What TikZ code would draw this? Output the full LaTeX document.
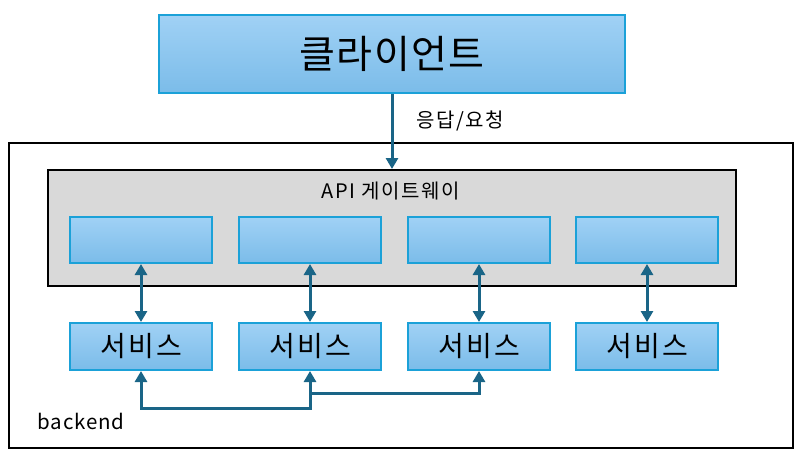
\documentclass[tikz,border=0pt]{standalone}
\usepackage{fontspec}
\setmainfont{Noto Sans CJK KR}
\newfontfamily\widea[LetterSpace=4]{Noto Sans CJK KR}
\newfontfamily\wideb[LetterSpace=8]{Noto Sans CJK KR}
\usetikzlibrary{arrows.meta,calc}
\definecolor{bordblue}{HTML}{1BA1D8}
\definecolor{topblue}{HTML}{A0D1F5}
\definecolor{botblue}{HTML}{7BBCE9}
\definecolor{arrowc}{HTML}{1A6587}
\definecolor{gw}{HTML}{D9D9D9}
\tikzset{
  bluebox/.style={draw=bordblue, line width=2pt, top color=topblue, bottom color=botblue, inner sep=0pt, anchor=north west},
  conn/.style={draw=arrowc, line width=3pt},
  tip/.style={-{Triangle[width=12pt,length=11pt]}},
  dtip/.style={{Triangle[width=12pt,length=11pt]}-{Triangle[width=12pt,length=11pt]}},
}
\begin{document}
\begin{tikzpicture}[x=1pt,y=-1pt]
\useasboundingbox (0,0) rectangle (801,451);
% outer backend
\node[draw=black, line width=2pt, minimum width=784pt, minimum height=305pt, anchor=north west, inner sep=0pt] (backend) at (8,142) {};
\node[anchor=west, font=\widea\fontsize{20.5}{20.5}\selectfont] (blabel) at (34,421) {backend};
% client
\node[bluebox, minimum width=466pt, minimum height=78pt, font=\widea\fontsize{39}{39}\selectfont] (client) at (158,14) {클라이언트};
% gateway
\node[draw=black, fill=gw, line width=2pt, minimum width=688pt, minimum height=116pt, anchor=north west, inner sep=0pt] (gw) at (47,169) {};
\node[font=\wideb\fontsize{20}{20}\selectfont] (gwlabel) at (391,191) {API 게이트웨이};
% inner boxes
\foreach \i/\x in {1/69,2/238,3/407,4/575}{
  \node[bluebox, minimum width=142pt, minimum height=46pt] (g\i) at (\x,216) {};
  \node[bluebox, minimum width=142pt, minimum height=47pt, font=\wideb\fontsize{28}{28}\selectfont] (s\i) at (\x,322) {서비스};
}
% client arrow
\draw[conn, tip] (client.south) -- (gw.north);
\node[anchor=west, font=\wideb\fontsize{20}{20}\selectfont] (rlabel) at (413,121) {응답/요청};
% gateway-service arrows
\foreach \i in {1,2,3,4}{
  \draw[conn, dtip] (g\i.south) -- (s\i.north);
}
% bottom connectors
\draw[conn, dtip] (s1.south) -- ($(s1.south)+(0,37)$) -| (s2.south);
\coordinate (j) at ($(s2.south)+(0,22)$);
\draw[conn, tip] (j) -| (s3.south);
\end{tikzpicture}
\end{document}
